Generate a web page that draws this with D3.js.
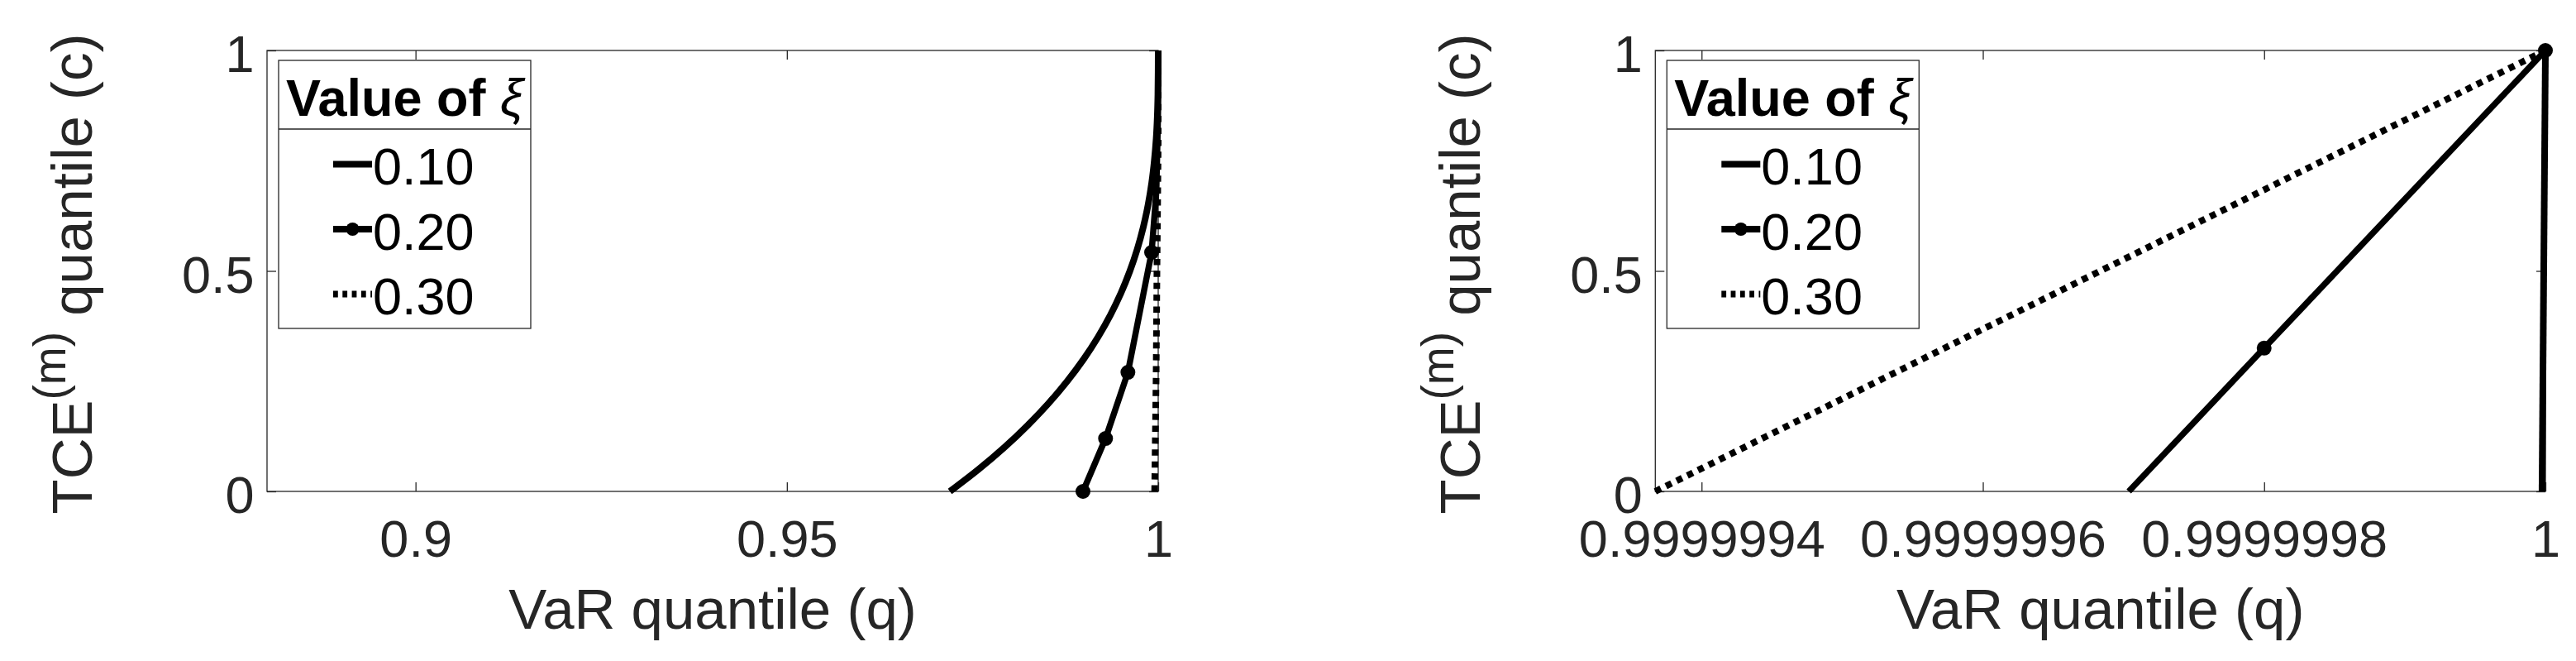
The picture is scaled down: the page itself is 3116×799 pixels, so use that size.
<!DOCTYPE html>
<html>
<head>
<meta charset="utf-8">
<script src="https://cdn.jsdelivr.net/npm/d3@7"></script>
<style>
  html, body { margin: 0; padding: 0; background: #fff; }
  svg { display: block; }
</style>
</head>
<body>
<svg id="chart" width="3116" height="799"></svg>
<script>
// ---------------- DATA ----------------
const seriesNames = ["0.10", "0.20", "0.30"];
const yTicks = [0, 0.5, 1];
const yTickLabels = ["0", "0.5", "1"];

// Left panel
const leftXDomain = [0.88, 1];
const leftXTicks = [0.9, 0.95, 1];
const leftXTickLabels = ["0.9", "0.95", "1"];
const leftQ01 = [0.97195, 0.97580, 0.97929, 0.98243, 0.98525, 0.98775, 0.98996, 0.99189, 0.99356, 0.99499, 0.99619,
                 0.99719, 0.99800, 0.99864, 0.99913, 0.99948, 0.99973, 0.99988, 0.99996, 0.99999, 1.0];
const leftC01 = [0, 0.05, 0.10, 0.15, 0.20, 0.25, 0.30, 0.35, 0.40, 0.45, 0.50,
                 0.55, 0.60, 0.65, 0.70, 0.75, 0.80, 0.85, 0.90, 0.95, 1.0];
const leftQ02 = [0.98987, 0.99291, 0.99592, 0.99911, 0.99975, 0.99997, 1.0];
const leftC02 = [0, 0.12, 0.27, 0.542, 0.68, 0.85, 1.0];
const leftMarkers02 = [0, 1, 2, 3];
const leftQ03 = [0.99952, 0.99972, 0.99983, 1.0, 1.0];
const leftC03 = [0, 0.26, 0.5, 0.79, 1.0];

// Right panel
const rightXDomain = [0.9999993671, 1];
const rightXTicks = [0.9999994, 0.9999996, 0.9999998, 1];
const rightXTickLabels = ["0.9999994", "0.9999996", "0.9999998", "1"];
const rightQ01 = [0.9999999976, 1.0];
const rightC01 = [0, 1.0];
const rightQ02 = [0.99999970376, 0.9999998, 1.0];
const rightC02 = [0, 0.325, 1.0];
const rightMarkers02 = [1, 2];
const rightQ03 = [0.9999993671, 1.0];
const rightC03 = [0, 1.0];

// ---------------- LAYOUT ----------------
const FONT = "'Liberation Sans', Arial, Helvetica, sans-serif";
const AX = "#262626";
const svg = d3.select("#chart");
svg.append("rect").attr("width", 3116).attr("height", 799).attr("fill", "#fff");

const panels = [
  { left: 323, right: 1401, top: 61, bottom: 594,
    xDomain: leftXDomain, xTicks: leftXTicks, xLabels: leftXTickLabels,
    s01: [leftQ01, leftC01], s02: [leftQ02, leftC02], m02: leftMarkers02, s03: [leftQ03, leftC03], curve01: true },
  { left: 2002.3, right: 3079, top: 61, bottom: 594,
    xDomain: rightXDomain, xTicks: rightXTicks, xLabels: rightXTickLabels,
    s01: [rightQ01, rightC01], s02: [rightQ02, rightC02], m02: rightMarkers02, s03: [rightQ03, rightC03], curve01: false }
];

function styleAxis(g) {
  g.select(".domain").remove();
  g.attr("font-size", 63).attr("font-family", FONT).attr("color", AX);
  g.selectAll(".tick line").attr("stroke", AX).attr("stroke-width", 1.3);
  g.selectAll(".tick text").attr("fill", AX);
}

function drawPanel(p) {
  const x = d3.scaleLinear().domain(p.xDomain).range([p.left, p.right]);
  const y = d3.scaleLinear().domain([0, 1]).range([p.bottom, p.top]);
  const g = svg.append("g");

  // axes
  g.append("g").attr("transform", `translate(0,${p.bottom})`)
    .call(d3.axisBottom(x).tickValues(p.xTicks).tickFormat((d, i) => p.xLabels[i])
      .tickSizeInner(-11).tickSizeOuter(0).tickPadding(34))
    .call(styleAxis);
  g.append("g").attr("transform", `translate(0,${p.top})`)
    .call(d3.axisTop(x).tickValues(p.xTicks).tickFormat("").tickSizeInner(-11).tickSizeOuter(0))
    .call(styleAxis);
  const yl = g.append("g").attr("transform", `translate(${p.left},0)`)
    .call(d3.axisLeft(y).tickValues(yTicks).tickFormat((d, i) => yTickLabels[i])
      .tickSizeInner(-11).tickSizeOuter(0).tickPadding(15.5))
    .call(styleAxis);
  yl.selectAll(".tick text").attr("dy", "0.41em");
  g.append("g").attr("transform", `translate(${p.right},0)`)
    .call(d3.axisRight(y).tickValues(yTicks).tickFormat("").tickSizeInner(-11).tickSizeOuter(0))
    .call(styleAxis);
  g.append("rect").attr("x", p.left).attr("y", p.top)
    .attr("width", p.right - p.left).attr("height", p.bottom - p.top)
    .attr("fill", "none").attr("stroke", AX).attr("stroke-width", 1.3);

  // axis labels
  g.append("text").attr("x", (p.left + p.right) / 2).attr("y", 760)
    .attr("text-anchor", "middle").attr("font-family", FONT).attr("font-size", 69)
    .attr("fill", AX).text("VaR quantile (q)");
  const yt = g.append("text")
    .attr("transform", `translate(${p.left - 212},331) rotate(-90)`)
    .attr("text-anchor", "middle").attr("font-family", FONT).attr("font-size", 69).attr("fill", AX);
  yt.append("tspan").text("TCE");
  yt.append("tspan").attr("font-size", 55).attr("dy", -32).text("(m)");
  yt.append("tspan").attr("dy", 32).text(" quantile (c)");

  // series
  const toPts = s => s[0].map((q, i) => [x(q), y(s[1][i])]);
  const lineLin = d3.line();
  const lineCurve = d3.line().curve(d3.curveCatmullRom.alpha(0.5));

  g.append("path").attr("d", (p.curve01 ? lineCurve : lineLin)(toPts(p.s01)))
    .attr("fill", "none").attr("stroke", "#000").attr("stroke-width", 8)
    .attr("stroke-linejoin", "round");
  g.append("path").attr("d", lineLin(toPts(p.s03)))
    .attr("fill", "none").attr("stroke", "#000").attr("stroke-width", 8)
    .attr("stroke-dasharray", "7.5,6.9");
  const p02 = toPts(p.s02);
  g.append("path").attr("d", lineLin(p02))
    .attr("fill", "none").attr("stroke", "#000").attr("stroke-width", 7.5)
    .attr("stroke-linejoin", "round");
  g.selectAll(null).data(p.m02).enter().append("circle")
    .attr("cx", i => p02[i][0]).attr("cy", i => p02[i][1]).attr("r", 9).attr("fill", "#000");

  // legend
  const lx = p.left + 14;
  const lg = g.append("g");
  lg.append("rect").attr("x", lx).attr("y", 73).attr("width", 305).attr("height", 324)
    .attr("fill", "#fff").attr("stroke", AX).attr("stroke-width", 1.3);
  lg.append("line").attr("x1", lx).attr("x2", lx + 305).attr("y1", 156).attr("y2", 156)
    .attr("stroke", AX).attr("stroke-width", 1.3);
  const tt = lg.append("text").attr("x", lx + 152.5).attr("y", 140).attr("text-anchor", "middle")
    .attr("font-family", FONT).attr("font-size", 63).attr("fill", "#000");
  tt.append("tspan").attr("font-weight", "bold").text("Value of ");
  tt.append("tspan").attr("font-style", "italic").text("ξ");

  seriesNames.forEach((name, i) => {
    const by = 223 + i * 78.5;
    const ly = by - 24.5;
    const ln = lg.append("line").attr("x1", p.left + 80).attr("x2", p.left + 127)
      .attr("y1", ly).attr("y2", ly).attr("stroke", "#000").attr("stroke-width", 8);
    if (i === 2) ln.attr("stroke-dasharray", "5.8,5.5");
    if (i === 1) lg.append("circle").attr("cx", p.left + 103.5).attr("cy", ly).attr("r", 8).attr("fill", "#000");
    lg.append("text").attr("x", p.left + 128).attr("y", by)
      .attr("font-family", FONT).attr("font-size", 63).attr("fill", "#000").text(name);
  });
}

panels.forEach(drawPanel);
</script>
</body>
</html>
